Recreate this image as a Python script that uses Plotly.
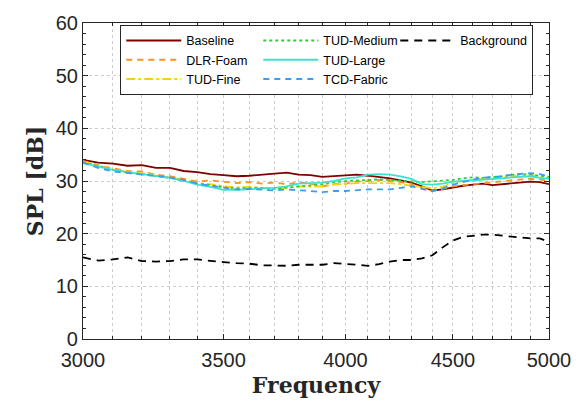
import plotly.graph_objects as go

freq = list(range(3000, 5001, 50))

baseline = [34.0, 33.5, 33.3, 32.9, 33.0, 32.5, 32.5, 31.9, 31.7, 31.3, 31.1, 30.9, 31.0, 31.2, 31.4, 31.6,
            31.2, 31.1, 30.8, 30.9, 31.0, 31.2, 31.0, 30.8, 30.5, 30.1, 29.7, 29.0, 28.2, 28.4, 28.8, 29.1,
            29.3, 29.5, 29.2, 29.4, 29.6, 29.7, 29.9, 29.8, 29.4]
dlr_foam = [33.8, 33.0, 32.4, 31.9, 31.8, 31.2, 30.9, 30.4, 29.9, 30.1, 29.8, 29.6, 29.8, 29.5, 29.7, 29.4,
            29.7, 29.5, 29.0, 29.4, 29.5, 29.9, 30.0, 30.2, 30.0, 29.8, 29.4, 28.8, 28.1, 28.5, 29.0, 29.2,
            29.4, 29.6, 29.8, 29.9, 30.1, 30.3, 30.4, 30.3, 30.0]
tud_fine = [33.7, 32.9, 32.2, 31.7, 31.5, 31.0, 30.7, 30.2, 29.6, 29.4, 29.0, 28.8, 28.9, 28.7, 28.6, 28.7,
            29.0, 28.9, 29.0, 29.3, 29.5, 29.6, 29.6, 29.6, 29.6, 29.4, 29.1, 28.9, 28.6, 28.9, 29.7, 30.0,
            30.2, 30.4, 30.6, 30.7, 30.9, 31.0, 31.1, 30.9, 30.6]
tud_medium = [33.6, 32.8, 32.1, 31.6, 31.3, 30.9, 30.6, 30.1, 29.5, 29.2, 28.8, 28.6, 28.6, 28.7, 28.5, 28.7,
              28.9, 29.1, 29.4, 29.8, 30.0, 30.1, 30.2, 30.3, 30.2, 30.0, 29.9, 29.8, 29.9, 30.1, 30.2, 30.5,
              30.7, 30.6, 30.7, 30.9, 31.2, 31.3, 31.2, 31.0, 30.8]
tud_large = [33.4, 32.7, 32.1, 31.7, 31.3, 30.9, 30.6, 30.0, 29.3, 28.9, 28.3, 28.3, 28.5, 28.6, 28.7, 29.0,
             29.5, 29.6, 29.7, 30.0, 30.5, 30.7, 31.2, 31.3, 31.2, 30.9, 30.4, 29.4, 29.3, 29.5, 29.9, 30.0,
             30.1, 30.2, 30.4, 30.5, 30.7, 30.8, 30.9, 30.6, 30.4]
tcd_fabric = [33.5, 32.5, 31.8, 31.5, 31.2, 30.9, 30.7, 30.2, 29.5, 29.1, 28.7, 28.4, 28.5, 28.4, 28.2, 28.4,
              28.3, 28.1, 27.9, 28.1, 28.1, 28.3, 28.4, 28.4, 28.4, 28.7, 29.0, 28.5, 28.1, 28.6, 29.3, 29.8,
              30.3, 30.6, 30.7, 30.9, 31.2, 31.4, 31.5, 31.3, 30.9]
background = [15.5, 14.9, 15.1, 15.5, 14.8, 14.7, 14.8, 15.1, 15.1, 14.8, 14.6, 14.4, 14.3, 14.0, 13.9, 13.9,
              14.1, 14.1, 14.1, 14.4, 14.3, 14.1, 13.9, 14.2, 14.7, 15.0, 15.0, 15.3, 15.9, 17.4, 18.7, 19.4,
              19.6, 19.8, 19.8, 19.6, 19.4, 19.2, 19.1, 19.1, 18.4]

x_ticks = [3000, 3500, 4000, 4500, 5000]
x_minor = [f for f in range(3100, 5000, 100) if f not in x_ticks]
y_ticks = [0, 10, 20, 30, 40, 50, 60]

series = [
    # name, values, color, dash, width, legend rank (row-major 3 columns)
    ("Baseline", baseline, "#800000", "solid", 1.8, 1),
    ("DLR-Foam", dlr_foam, "#F7931E", "6px,5px", 1.8, 4),
    ("TUD-Fine", tud_fine, "#F5D10F", "dashdot", 1.8, 6),
    ("TUD-Medium", tud_medium, "#33CC33", "dot", 1.8, 2),
    ("TUD-Large", tud_large, "#40E0D0", "solid", 1.8, 5),
    ("TCD-Fabric", tcd_fabric, "#3C9CF0", "6px,5px", 1.8, 7),
    ("Background", background, "#000000", "8px,6px", 1.8, 3),
]

fig = go.Figure()
for name, vals, color, dash, w, rank in series:
    fig.add_trace(go.Scatter(x=freq, y=vals, mode="lines", name=name,
                             line=dict(color=color, dash=dash, width=w),
                             legendrank=rank))
# empty legend slot (third column of second row)
fig.add_trace(go.Scatter(x=[None], y=[None], mode="lines", name=" ",
                         line=dict(color="rgba(0,0,0,0)"), legendrank=5.5,
                         hoverinfo="skip"))

axis_col = "#262626"
fig.update_layout(
    width=583, height=405,
    margin=dict(l=83, r=33, t=17, b=66),
    paper_bgcolor="white", plot_bgcolor="white",
    font=dict(family="Liberation Sans, Arial, sans-serif", color=axis_col),
    showlegend=True,
    legend=dict(orientation="h", x=0.08, y=0.994, xanchor="left", yanchor="top",
                bgcolor="white", bordercolor=axis_col, borderwidth=1,
                font=dict(size=12.5, color="#000000"), entrywidth=67, itemwidth=55,
                traceorder="normal"),
)
fig.update_xaxes(type="log", range=[3.4771212547, 3.6989700043],
                 tickmode="array", tickvals=x_ticks, ticktext=[str(t) for t in x_ticks],
                 tickfont=dict(size=20), ticks="inside", ticklen=5, tickcolor=axis_col,
                 ticklabelstandoff=3,
                 showline=True, linecolor=axis_col, linewidth=1.2, mirror="ticks",
                 showgrid=True, gridcolor="#cccccc", griddash="dot", gridwidth=1,
                 minor=dict(tickmode="array", tickvals=x_minor, ticks="inside", ticklen=3,
                            tickcolor=axis_col, showgrid=True, gridcolor="#cccccc",
                            griddash="dot", gridwidth=1),
                 zeroline=False,
                 title=dict(text="<b>Frequency</b>", standoff=7,
                            font=dict(family="DejaVu Serif, serif", size=22, color="#262626")))
fig.update_yaxes(range=[0, 60], tickmode="array", tickvals=y_ticks,
                 tickfont=dict(size=20), ticks="inside", ticklen=5, tickcolor=axis_col,
                 showline=True, linecolor=axis_col, linewidth=1.2, mirror="ticks",
                 showgrid=True, gridcolor="#cccccc", griddash="dot", gridwidth=1,
                 minor=dict(dtick=2, ticks="inside", ticklen=3, tickcolor=axis_col, showgrid=False),
                 zeroline=False,
                 title=dict(text="<b>SPL [dB]</b>", standoff=5,
                            font=dict(family="DejaVu Serif, serif", size=22, color="#262626")))

fig.write_html("out.html")
